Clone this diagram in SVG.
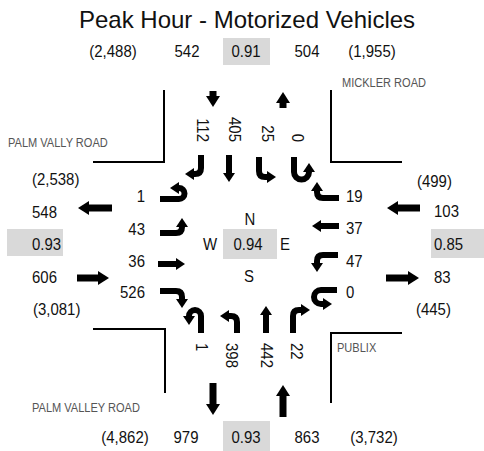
<svg xmlns="http://www.w3.org/2000/svg" width="484" height="451" viewBox="0 0 484 451">
<style>
text{font-family:"Liberation Sans",Arial,sans-serif;fill:#111}
.n{font-size:17px}
.c{text-anchor:middle}
.e{text-anchor:end}
.rd{font-size:13px;fill:#555}
.t{font-size:24px}
.box{fill:#d9d9d9}
.road{fill:none;stroke:#000;stroke-width:2}
.mv{fill:none;stroke:#000;stroke-width:6;marker-end:url(#ah)}
.ap{fill:none;stroke:#000;stroke-width:7;marker-end:url(#ahb)}
</style>
<defs>
<marker id="ah" viewBox="0 0 9 12" refX="0" refY="6" markerWidth="9" markerHeight="12" markerUnits="userSpaceOnUse" orient="auto"><path d="M0,0 L9,6 L0,12 Z" fill="#000"/></marker>
<marker id="ahb" viewBox="0 0 11 14" refX="0" refY="7" markerWidth="11" markerHeight="14" markerUnits="userSpaceOnUse" orient="auto"><path d="M0,0 L11,7 L0,14 Z" fill="#000"/></marker>
</defs>
<rect width="484" height="451" fill="#fff"/>
<text id="title" x="247" y="28" class="c t">Peak Hour - Motorized Vehicles</text>

<g id="roads">
<path class="road" d="M93,162 H164 V90"/>
<path class="road" d="M402,162 H331 V90"/>
<path class="road" d="M93,329 H165 V393"/>
<path class="road" d="M402,333 H331 V403"/>
<text class="rd" transform="translate(8,147) scale(.85,1)">PALM VALLY ROAD</text>
<text class="rd" transform="translate(342,87) scale(.85,1)">MICKLER ROAD</text>
<text class="rd" transform="translate(32,412) scale(.85,1)">PALM VALLEY ROAD</text>
<text class="rd" transform="translate(337,352) scale(.85,1)">PUBLIX</text>
</g>

<g id="north-approach">
<rect class="box" x="223" y="38" width="47" height="27"/>
<text class="n c" transform="translate(113,57) scale(.88,1)">(2,488)</text>
<text class="n c" transform="translate(187,57) scale(.88,1)">542</text>
<text class="n c" transform="translate(246,57) scale(.88,1)">0.91</text>
<text class="n c" transform="translate(307,57) scale(.88,1)">504</text>
<text class="n c" transform="translate(372,57) scale(.88,1)">(1,955)</text>
<text class="n e" transform="translate(197,142) rotate(90) scale(.88,1)">112</text>
<text class="n e" transform="translate(229,142) rotate(90) scale(.88,1)">405</text>
<text class="n e" transform="translate(262,142) rotate(90) scale(.88,1)">25</text>
<text class="n e" transform="translate(292,142) rotate(90) scale(.88,1)">0</text>
</g>

<g id="south-approach">
<rect class="box" x="223" y="421" width="47" height="30"/>
<text class="n c" transform="translate(125,443) scale(.88,1)">(4,862)</text>
<text class="n c" transform="translate(186,443) scale(.88,1)">979</text>
<text class="n c" transform="translate(246,443) scale(.88,1)">0.93</text>
<text class="n c" transform="translate(307,443) scale(.88,1)">863</text>
<text class="n c" transform="translate(374,443) scale(.88,1)">(3,732)</text>
<text class="n" transform="translate(196,343) rotate(90) scale(.88,1)">1</text>
<text class="n" transform="translate(226,343) rotate(90) scale(.88,1)">398</text>
<text class="n" transform="translate(261,343) rotate(90) scale(.88,1)">442</text>
<text class="n" transform="translate(291,343) rotate(90) scale(.88,1)">22</text>
</g>

<g id="west-approach">
<rect class="box" x="7" y="229" width="56" height="27"/>
<text class="n" transform="translate(32,185) scale(.88,1)">(2,538)</text>
<text class="n" transform="translate(32,218) scale(.88,1)">548</text>
<text class="n" transform="translate(32,250) scale(.88,1)">0.93</text>
<text class="n" transform="translate(32,283) scale(.88,1)">606</text>
<text class="n" transform="translate(33,315) scale(.88,1)">(3,081)</text>
<text class="n e" transform="translate(145,202) scale(.88,1)">1</text>
<text class="n e" transform="translate(145,235) scale(.88,1)">43</text>
<text class="n e" transform="translate(145,267) scale(.88,1)">36</text>
<text class="n e" transform="translate(145,298) scale(.88,1)">526</text>
</g>

<g id="east-approach">
<rect class="box" x="431" y="229" width="53" height="29"/>
<text class="n" transform="translate(417,187) scale(.88,1)">(499)</text>
<text class="n" transform="translate(434,217) scale(.88,1)">103</text>
<text class="n" transform="translate(434,250) scale(.88,1)">0.85</text>
<text class="n" transform="translate(434,283) scale(.88,1)">83</text>
<text class="n" transform="translate(416,315) scale(.88,1)">(445)</text>
<text class="n" transform="translate(346,202) scale(.88,1)">19</text>
<text class="n" transform="translate(346,234) scale(.88,1)">37</text>
<text class="n" transform="translate(346,267) scale(.88,1)">47</text>
<text class="n" transform="translate(346,298) scale(.88,1)">0</text>
</g>

<g id="center">
<rect class="box" x="223" y="229" width="54" height="30"/>
<text class="n c" transform="translate(250,225) scale(.88,1)">N</text>
<text class="n c" transform="translate(210,250) scale(.88,1)">W</text>
<text class="n c" transform="translate(248,250) scale(.88,1)">0.94</text>
<text class="n c" transform="translate(285,250) scale(.88,1)">E</text>
<text class="n c" transform="translate(249,282) scale(.88,1)">S</text>
</g>

<g id="connectors">
<path class="ap" d="M213,91 V96"/>
<path class="ap" d="M283,108 V103"/>
<path class="ap" d="M213,383 V404"/>
<path class="ap" d="M283,417 V396"/>
<path class="ap" d="M112,208 H89"/>
<path class="ap" d="M77,278 H98"/>
<path class="ap" d="M420,208 H398"/>
<path class="ap" d="M386,278 H408"/>

<path class="mv" d="M201,155 V168 Q201,174 195,174 H194"/>
<path class="mv" d="M229,155 V173"/>
<path class="mv" d="M259,157 V171 Q259,177 265,177 H267"/>
<path class="mv" d="M294,157 V172 A7.5,7.5 0 0 0 309,172"/>

<path class="mv" d="M160,199 H179 A5.5,5.5 0 0 0 179,188"/>
<path class="mv" d="M160,233 H176 Q182,233 182,227"/>
<path class="mv" d="M158,264 H176"/>
<path class="mv" d="M160,291 H176 Q182,291 182,297 V299"/>

<path class="mv" d="M201,333 V316 A6,6 0 0 0 189,316"/>
<path class="mv" d="M237,333 V322 Q237,316 231,316 H229"/>
<path class="mv" d="M266,333 V315"/>
<path class="mv" d="M293,333 V316 Q293,310 299,310 H301"/>

<path class="mv" d="M339,198 H323 Q317,198 317,192 V191"/>
<path class="mv" d="M339,226 H321"/>
<path class="mv" d="M338,255 H323 Q317,255 317,261 V263"/>
<path class="mv" d="M337,290 H321 A7,7 0 0 0 321,304 H323"/>
</g>
</svg>
